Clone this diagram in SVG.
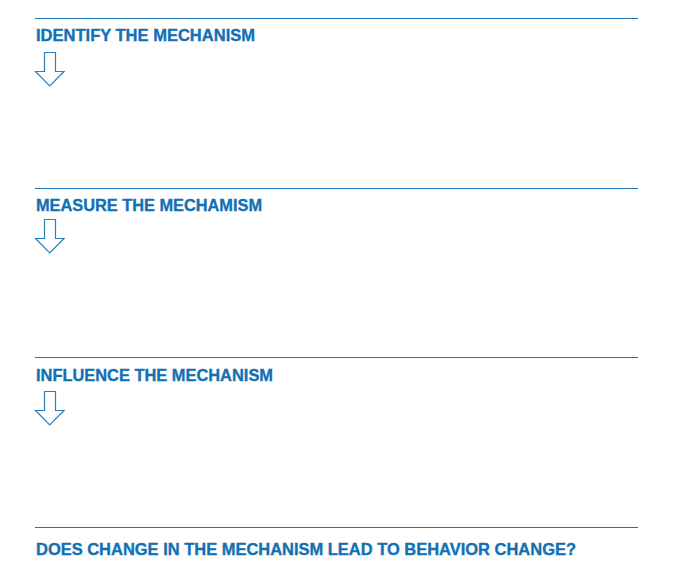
<svg xmlns="http://www.w3.org/2000/svg" width="685" height="576" viewBox="0 0 685 576">
<style>
.rule{stroke:#1a74b9;stroke-width:1.2;fill:none}
.t{font-family:"Liberation Sans",Arial,sans-serif;font-weight:bold;font-size:16.5px;fill:#1270b5;stroke:#1270b5;stroke-width:0.35}
.arr{fill:#fff;stroke:#2a7fc0;stroke-width:1.2;stroke-linejoin:miter}
</style>
<rect width="685" height="576" fill="#fff"/>
<g id="step1">
<line class="rule" x1="35" y1="18.5" x2="638" y2="18.5"/>
<text class="t" x="36" y="41" textLength="219" lengthAdjust="spacingAndGlyphs">IDENTIFY THE MECHANISM</text>
</g>
<g id="step2">
<line class="rule" x1="35" y1="188.5" x2="638" y2="188.5"/>
<text class="t" x="36" y="211" textLength="226" lengthAdjust="spacingAndGlyphs">MEASURE THE MECHAMISM</text>
</g>
<g id="step3">
<line class="rule" x1="35" y1="357.5" x2="638" y2="357.5"/>
<text class="t" x="36" y="381" textLength="237" lengthAdjust="spacingAndGlyphs">INFLUENCE THE MECHANISM</text>
</g>
<g id="step4">
<line class="rule" x1="35" y1="527.5" x2="638" y2="527.5"/>
<text class="t" x="36" y="555" textLength="540" lengthAdjust="spacingAndGlyphs">DOES CHANGE IN THE MECHANISM LEAD TO BEHAVIOR CHANGE?</text>
</g>
<g id="connectors">
<polygon class="arr" points="44.5,52.5 55.5,52.5 55.5,71.5 64,71.5 49.75,86 35.5,71.5 44.5,71.5"/>
<polygon class="arr" points="44.5,219.5 55.5,219.5 55.5,238.5 64,238.5 49.75,253 35.5,238.5 44.5,238.5"/>
<polygon class="arr" points="44.5,391.5 55.5,391.5 55.5,410.5 64,410.5 49.75,425 35.5,410.5 44.5,410.5"/>
</g>
</svg>
